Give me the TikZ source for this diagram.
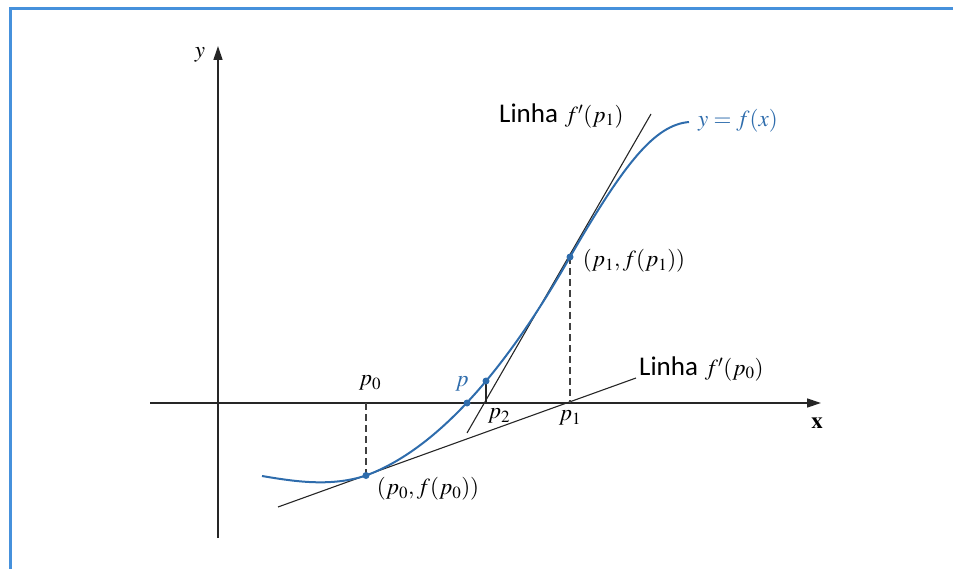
\documentclass[tikz,border=0pt]{standalone}
\usepackage{mathptmx}
\usepackage{fontspec}
\newfontfamily\linhafont{Carlito}
\usepackage{tikz}
\usetikzlibrary{arrows.meta}
\definecolor{curveblue}{RGB}{46,108,172}
\definecolor{frameblue}{RGB}{70,145,220}
\tikzset{
  framebox/.style = {frameblue,line width=3pt},
  axisarr/.style  = {-{Triangle[length=14pt,width=9pt]},line width=1.3pt,black!85},
  tanline/.style  = {line width=1.1pt,black!85},
  dropline/.style = {line width=1.1pt,black!75,dash pattern=on 7pt off 4pt},
  fcurve/.style   = {curveblue,line width=2pt},
  ptdot/.style    = {circle,fill=curveblue,inner sep=0pt,minimum size=7pt},
  lbl/.style      = {font=\fontsize{23}{26}\selectfont,inner sep=0pt},
  linha/.style    = {font=\fontsize{27}{30}\selectfont\linhafont}
}

\begin{document}
\begin{tikzpicture}[x=1pt,y=-1pt]
  \useasboundingbox (0,0) rectangle (953,569);
  \draw[framebox] (10,575) -- (10,9) -- (960,9);
  \coordinate (xs) at (150,403);
  \coordinate (xe) at (821,403);
  \coordinate (ys) at (218,538);
  \coordinate (ye) at (218,46);
  \draw[axisarr] (xs) -- (xe);
  \draw[axisarr] (ys) -- (ye);
  \node[lbl] (ylab) at (200,55) {$y$};
  \node[lbl] (xlab) at (817,423) {$\mathbf{x}$};
  \coordinate (p0) at (366,403);
  \coordinate (p1) at (570,403);
  \coordinate (p2) at (486,403);
  \coordinate (fp0) at (366,475.5);
  \coordinate (fp1) at (570,257);
  \coordinate (fp2) at (486,381);
  \coordinate (pr) at (467,403);
  \coordinate (t0a) at (278,507);
  \coordinate (t0b) at (636,378);
  \coordinate (t1a) at (467,433);
  \coordinate (t1b) at (651,114);
  \draw[tanline] (t0a) -- (t0b);
  \draw[tanline] (t1a) -- (t1b);
  \draw[dropline] (p0) -- (fp0);
  \draw[dropline] (fp1) -- (p1);
  \draw[tanline] (fp2) -- (p2);
  \draw[fcurve] (262,476) .. controls (292,481) and (330,487.5) .. (fp0)
    .. controls (432.5,450.9) and (500.8,378.6) .. (fp1)
    .. controls (625,162) and (655,125) .. (689,122);
  \node[ptdot] (d0) at (fp0) {};
  \node[ptdot] (d1) at (fp1) {};
  \node[ptdot] (d2) at (fp2) {};
  \node[ptdot] (dp) at (pr) {};
  \node[lbl] (p0lab) at (370,383) {$p_0$};
  \node[lbl,text=curveblue] (plab) at (462,384) {$p$};
  \node[lbl] (p2lab) at (499,416) {$p_2$};
  \node[lbl] (p1lab) at (570,418) {$p_1$};
  \node[lbl] (fp0lab) at (428,489) {$(p_0,f(p_0))$};
  \node[lbl] (fp1lab) at (634,261) {$(p_1,f(p_1))$};
  \node[lbl,anchor=west] (tan1lab) at (499,116) {{\linhafont\fontsize{27}{30}\selectfont Linha} $f'(p_1)$};
  \node[lbl,text=curveblue] (flab) at (738,121) {$y=f(x)$};
  \node[lbl,anchor=west] (tan0lab) at (639,369) {{\linhafont\fontsize{27}{30}\selectfont Linha} $f'(p_0)$};
\end{tikzpicture}
\end{document}
